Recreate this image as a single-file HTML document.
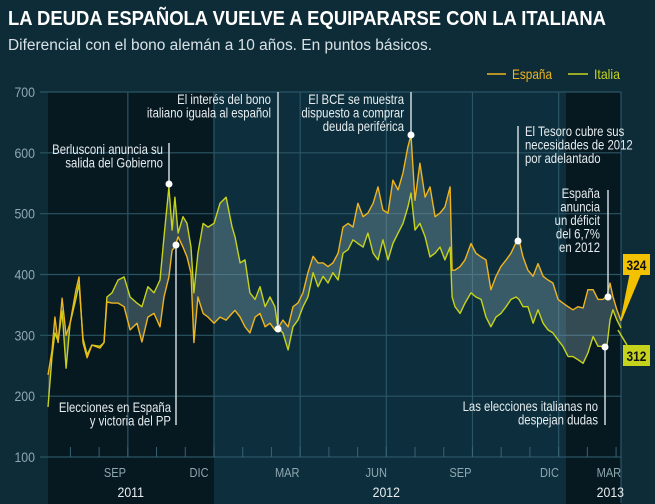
<!DOCTYPE html>
<html><head><meta charset="utf-8"><style>
body{margin:0;background:#0e2c38;}
svg{display:block;font-family:"Liberation Sans Narrow","Liberation Sans",sans-serif;}
</style></head><body>
<svg id="chart" width="655" height="504" viewBox="0 0 655 504">
<rect x="0" y="0" width="655" height="504" fill="#0e2c38"/>
<text x="8" y="25" fill="#ffffff" font-size="20" font-weight="bold" textLength="598" lengthAdjust="spacingAndGlyphs">LA DEUDA ESPAÑOLA VUELVE A EQUIPARARSE CON LA ITALIANA</text>
<text x="8" y="50" fill="#d8e2e6" font-size="15.5" textLength="424" lengthAdjust="spacingAndGlyphs">Diferencial con el bono alemán a 10 años. En puntos básicos.</text>
<g id="bands"></g>
<g id="grid"></g>
<g id="axes"></g>
<path id="gapfill" fill="rgba(150,180,190,0.33)"/>
<path id="itaLine" fill="none" stroke="#c6d31c" stroke-width="1.4" stroke-linejoin="round"/>
<path id="espLine" fill="none" stroke="#eeb51e" stroke-width="1.4" stroke-linejoin="round"/>
<g id="annot" fill="#e6ecef" font-size="13" stroke="none"></g>
<g>
<line x1="487" y1="74" x2="506" y2="74" stroke="#eeb51e" stroke-width="1.5"/>
<text x="512" y="79" fill="#eeb51e" font-size="14" textLength="40" lengthAdjust="spacingAndGlyphs">España</text>
<line x1="568" y1="74" x2="588" y2="74" stroke="#c6d31c" stroke-width="1.5"/>
<text x="594" y="79" fill="#c6d31c" font-size="14" textLength="26" lengthAdjust="spacingAndGlyphs">Italia</text>
</g>
<g id="endlabels"></g>
</svg>
<script>
// time in months since Jan 1 2012
const months = [-5.78,-5.64,-5.54,-5.43,-5.29,-5.15,-5.01,-4.81,-4.70,-4.56,
-4.42,-4.25,-3.97,-3.83,-3.73,-3.55,-3.34,-3.13,-2.92,-2.68,
-2.51,-2.30,-2.09,-1.88,-1.74,-1.57,-1.46,-1.36,-1.25,-1.08,
-0.94,-0.80,-0.70,-0.56,-0.38,-0.21,0,0.21,0.42,0.63,
0.73,0.91,1.08,1.25,1.43,1.60,1.78,1.95,2.12,2.23,
2.40,2.58,2.75,2.92,3.10,3.27,3.45,3.62,3.80,3.97,
4.14,4.32,4.49,4.67,4.84,5.01,5.19,5.36,5.54,5.71,
5.88,6.06,6.23,6.41,6.58,6.75,6.86,7.00,7.17,7.35,
7.52,7.70,7.87,8.04,8.22,8.29,8.39,8.57,8.74,8.95,
9.12,9.30,9.47,9.64,9.82,9.99,10.17,10.34,10.52,10.62,
10.76,10.93,11.11,11.28,11.46,11.63,11.80,11.98,12.15,12.33,
12.50,12.67,12.85,13.02,13.20,13.37,13.54,13.68,13.79,13.89,
14.03,14.17];
const espana = [235,275,330,288,361,300,320,374,396,288,263,284,279,288,355,353,353,347,309,320,289,330,336,314,363,396,440,445,462,445,429,402,288,363,336,330,320,330,325,336,341,330,314,304,330,336,314,320,309,312,325,314,347,353,370,403,430,419,419,413,419,435,478,484,478,517,495,501,517,544,506,501,555,539,567,610,629,522,583,527,544,495,501,511,544,407,407,413,424,451,435,429,424,375,397,413,424,435,453,457,429,407,397,418,397,391,386,359,353,347,342,347,345,375,375,359,359,364,386,364,342,324];
const italia = [182,265,304,290,340,246,320,360,385,295,268,284,282,288,363,370,391,396,363,353,347,380,370,391,462,544,473,527,468,495,484,445,370,435,484,478,484,517,527,478,462,419,424,370,359,380,347,363,347,312,304,276,314,325,347,363,403,380,397,386,403,391,435,441,457,451,445,468,435,424,457,424,451,468,484,511,534,473,484,462,429,435,445,424,445,363,347,336,353,370,363,359,330,314,330,336,347,359,363,359,347,347,320,342,320,309,304,292,282,265,265,260,254,271,298,282,282,282,325,342,325,312];
const yTicks = [100,200,300,400,500,600,700];
const monthLabels = ["SEP","DIC","MAR","JUN","SEP","DIC","MAR"];
const monthLabelPos = [-3.45,-0.52,2.55,5.65,8.58,11.68,13.75];
const yearLabels = ["2011","2012","2013"];
const yearLabelPos = [-2.9,6.0,13.8];

const X0=48, X1=621, Y0=92, Y1=457;
const xS = m => 214 + m*28.72;
const yS = v => Y0 + (700-v)*(Y1-Y0)/600;
const NS="http://www.w3.org/2000/svg";
function mk(tag, parent, attrs){const e=document.createElementNS(NS,tag);for(const k in attrs)e.setAttribute(k,attrs[k]);parent.appendChild(e);return e;}
function narrow(t,x,f){t.setAttribute('transform',`translate(${x},0) scale(${f},1) translate(${-x},0)`);}

const bands=document.getElementById('bands');
let r=mk('rect',bands,{x:X0,y:Y0,width:X1-X0,height:504-Y0,fill:'#0d2f3d'});


r=mk('rect',bands,{x:X0,y:Y0,width:xS(0)-X0,height:504-Y0,fill:'#061820'});


r=mk('rect',bands,{x:566,y:Y0,width:X1-566,height:504-Y0,fill:'#061820'});



const grid=document.getElementById('grid');
yTicks.forEach(v=>{
  const l=mk('line',grid,{x1:40,x2:X1,y1:yS(v),y2:yS(v),stroke:'#2b5565','stroke-width':1.2});
  
  
  const t=mk('text',grid,{x:35,y:yS(v)+5,fill:'#8ea7b1','font-size':14,'text-anchor':'end'});
  t.textContent=v;
  narrow(t,35,0.88);
  
  
});
for(let q=-1;q<=4;q++){
  const x=xS(q*3);
  if(x<X0||x>X1)continue;
  const l=mk('line',grid,{x1:x,x2:x,y1:Y0,y2:Y1,stroke:'#2b5565','stroke-width':1.2});
  
  
}
const edge=mk('line',grid,{x1:X1,x2:X1,y1:Y0,y2:503,stroke:'#2b5565','stroke-width':1.2});


for(let m=-5;m<=14;m++){
  const x=xS(m);
  if(x<X0||x>X1)continue;
  const l=mk('line',grid,{x1:x,x2:x,y1:Y1-10,y2:Y1,stroke:'#3a6373','stroke-width':1});
  
  
}
const axes=document.getElementById('axes');
monthLabels.forEach((s,i)=>{
  const x=xS(monthLabelPos[i]);
  const t=mk('text',axes,{x:x,y:477,fill:'#8ea7b1','font-size':13,'text-anchor':'middle'});
  t.textContent=s;
  narrow(t,x,0.85);
  
  
});
yearLabels.forEach((s,i)=>{
  const x=xS(yearLabelPos[i]);
  const t=mk('text',axes,{x:x,y:497,fill:'#e6ecef','font-size':14,'text-anchor':'middle'});
  t.textContent=s;
  narrow(t,x,0.88);
  
  
});

const pE=months.map((m,i)=>xS(m).toFixed(1)+','+yS(espana[i]).toFixed(1));
const pI=months.map((m,i)=>xS(m).toFixed(1)+','+yS(italia[i]).toFixed(1));
document.getElementById('espLine').setAttribute('d','M'+pE.join('L'));
document.getElementById('itaLine').setAttribute('d','M'+pI.join('L'));
document.getElementById('gapfill').setAttribute('d','M'+pE.join('L')+'L'+pI.slice().reverse().join('L')+'Z');

const annots=[
 [169,143,184,184,["Berlusconi anuncia su","salida del Gobierno"],163,154,'end','berlusconi'],
 [176,245,425,245,["Elecciones en España","y victoria del PP"],171,412,'end','elecciones-espana'],
 [278,92,329,329,["El interés del bono","italiano iguala al español"],271,104,'end','bono-italiano'],
 [411,92,135,135,["El BCE se muestra","dispuesto a comprar","deuda periférica"],404,104,'end','bce'],
 [518,126,241,241,["El Tesoro cubre sus","necesidades de 2012","por adelantado"],525,136,'start','tesoro'],
 [608,190,297,297,["España","anuncia","un déficit","del 6,7%","en 2012"],600,198,'end','deficit'],
 [605,347,425,347,["Las elecciones italianas no","despejan dudas"],598,411,'end','elecciones-italia']
];
const ag=document.getElementById('annot');
annots.forEach(a=>{
  const g=mk('g',ag,{});
  
  
  mk('line',g,{x1:a[0],x2:a[0],y1:a[1],y2:a[2],stroke:'#cfd8dc','stroke-width':1.5});
  mk('circle',g,{cx:a[0],cy:a[3],r:3.5,fill:'#ffffff'});
  a[4].forEach((s,i)=>{
    const t=mk('text',g,{x:a[5],y:a[6]+i*13.5,'text-anchor':a[7],fill:'#e6ecef','font-size':13.5});
    t.textContent=s;
    narrow(t,a[5],0.84);
  });
});

const el=document.getElementById('endlabels');
const last=months.length-1;
let g=mk('g',el,{});


mk('path',g,{d:`M${xS(months[last])},${yS(espana[last])}L630,275L640,275Z`,fill:'#f2c200',stroke:'#f2c200','stroke-width':1.2});
mk('rect',g,{x:623,y:254,width:27,height:21,fill:'#f2c200'});
let t=mk('text',g,{x:636.5,y:270,'text-anchor':'middle','font-size':14,'font-weight':'bold',fill:'#111'});
t.textContent=espana[last];
narrow(t,636.5,0.85);
g=mk('g',el,{});


mk('path',g,{d:`M${xS(months[last])-3},${yS(italia[last])+2}L627,345`,fill:'none',stroke:'#c6d31c','stroke-width':1.5});
mk('rect',g,{x:623,y:345,width:27,height:21,fill:'#c6d31c'});
t=mk('text',g,{x:636.5,y:361,'text-anchor':'middle','font-size':14,'font-weight':'bold',fill:'#111'});
t.textContent=italia[last];
narrow(t,636.5,0.85);
</script>
</body></html>
